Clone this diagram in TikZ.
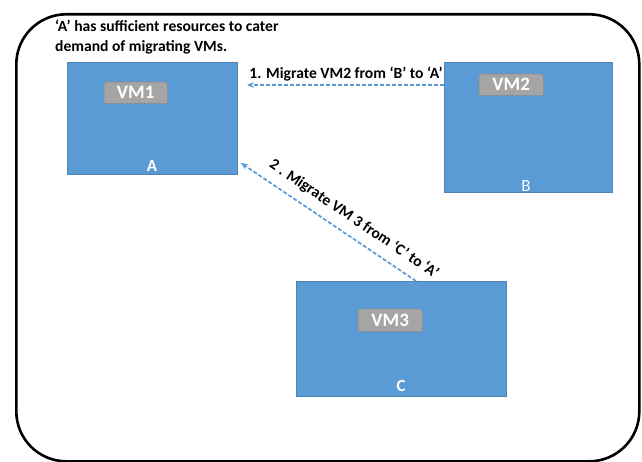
\documentclass[tikz,border=0pt]{standalone}
\usepackage{fontspec}
\setmainfont{Carlito}
\usetikzlibrary{arrows.meta}
\definecolor{boxblue}{HTML}{5B9BD5}
\definecolor{vmgray}{HTML}{A5A5A5}
\definecolor{vmedge}{HTML}{8C8C8C}
\definecolor{arrowblue}{HTML}{5B9BD5}
\tikzset{
  server/.style={rectangle, fill=boxblue, draw=boxblue!85!black, line width=0.6pt, inner sep=0pt, anchor=north west},
  vmbox/.style={rectangle, inner sep=0pt, anchor=north west, text=white, font=\bfseries\fontsize{19}{20}\selectfont},
  srvlabel/.style={text=white, font=\bfseries\fontsize{17}{18}\selectfont, inner sep=0pt},
  migr/.style={draw=arrowblue, dashed, dash pattern=on 4pt off 2pt, line width=1.7pt, -{Stealth[length=7pt,width=6pt]}},
  lbl/.style={font=\bfseries\fontsize{15.6}{17}\selectfont, inner sep=0pt}
}
\newcommand{\vmshape}[1]{%
  \fill[vmgray, draw=vmedge, line width=0.6pt, rounded corners=3pt]
    (#1.south west) -- (#1.north west) -- (#1.north east) [sharp corners] -- (#1.south east) -- cycle;}
\begin{document}
\begin{tikzpicture}[x=1pt,y=-1pt]
\useasboundingbox (0,0) rectangle (642,462);
% outer frame
\node[draw, line width=2.6pt, rounded corners=50pt, minimum width=623pt, minimum height=447pt, inner sep=0pt, anchor=north west] (frame) at (15,13) {};
% title
\node[anchor=north west, align=left, font=\bfseries\fontsize{15.6}{20}\selectfont, inner sep=0pt] (title) at (55,20) {‘A’ has sufficient resources to cater\\demand of migrating VMs.};
% servers
\node[server, minimum width=170pt, minimum height=112pt] (A) at (67,62) {};
\node[server, minimum width=168pt, minimum height=130pt] (B) at (444,62) {};
\node[server, minimum width=210pt, minimum height=115pt] (C) at (296,281) {};
\node[srvlabel] (Al) at (152,166) {A};
\node[srvlabel, font=\fontsize{17}{18}\selectfont] (Bl) at (526,186) {B};
\node[srvlabel] (Cl) at (401,386) {C};
% VMs
\node[vmbox, minimum width=63pt, minimum height=21pt] (v1) at (104,82) {};
\node[vmbox, minimum width=64pt, minimum height=21pt] (v2) at (479,74) {};
\node[vmbox, minimum width=64pt, minimum height=22pt] (v3) at (358,309) {};
\vmshape{v1}\vmshape{v2}\vmshape{v3}
\node[vmbox, anchor=center] at (v1.center) {VM1};
\node[vmbox, anchor=center] at (v2.center) {VM2};
\node[vmbox, anchor=center] at (v3.center) {VM3};
% arrows
\coordinate (t1) at (247,85);
\coordinate (s1) at (444,85);
\coordinate (t2) at (241,163);
\coordinate (s2) at (416,281);
\draw[migr] (s1) -- (t1);
\draw[migr] (s2) -- (t2);
\node[lbl] (l1) at (346,74) {1. Migrate VM2 from ‘B’ to ‘A’};
\node[lbl, rotate=-34] (l2) at (354,219) {2 . Migrate VM 3 from ‘C’ to ‘A’};
\end{tikzpicture}
\end{document}
